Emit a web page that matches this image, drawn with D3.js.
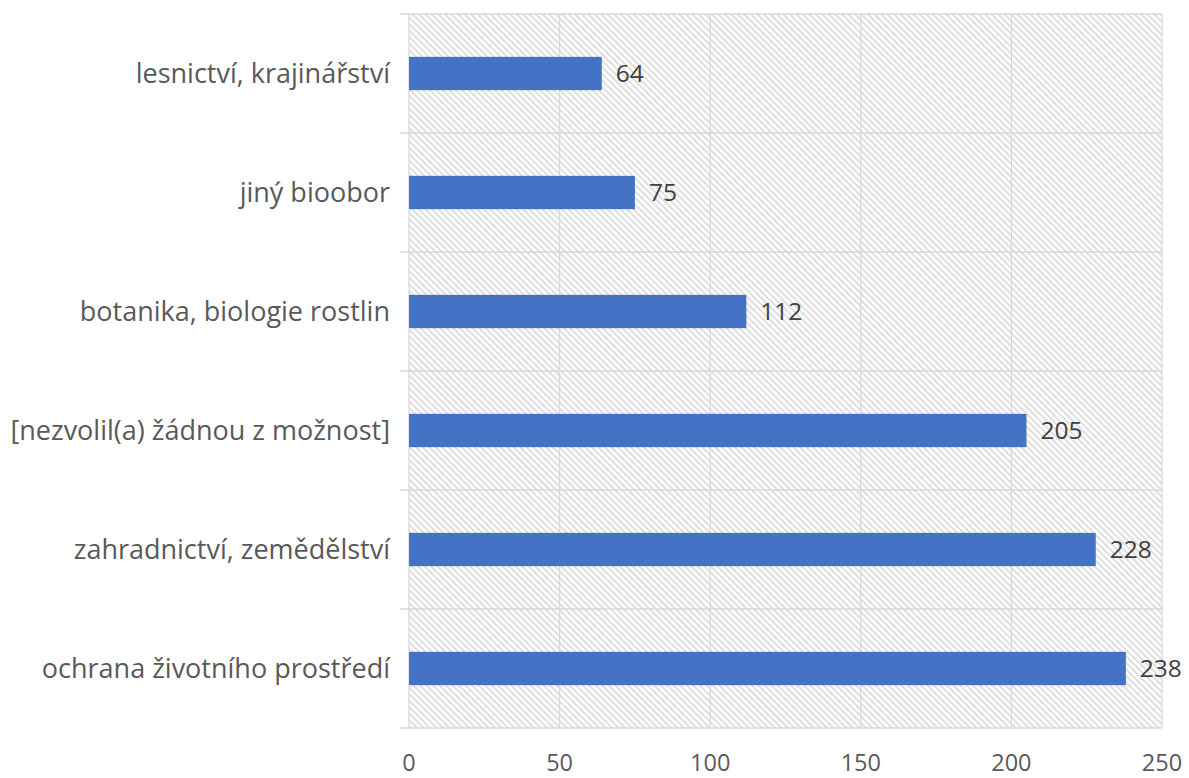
<!DOCTYPE html>
<html>
<head>
<meta charset="utf-8">
<script src="https://cdn.jsdelivr.net/npm/d3@7"></script>
<style>
  html, body { margin: 0; padding: 0; background: #fff; }
  svg { display: block; }
  text { font-family: "Open Sans", "Noto Sans", sans-serif; }
</style>
</head>
<body>
<script>
// Obory – počty odpovědí
const categories = [
  "lesnictví, krajinářství",
  "jiný bioobor",
  "botanika, biologie rostlin",
  "[nezvolil(a) žádnou z možnost]",
  "zahradnictví, zemědělství",
  "ochrana životního prostředí"
];
const values = [64, 75, 112, 205, 228, 238];
const xTicks = [0, 50, 100, 150, 200, 250];

const W = 1189, H = 778;
const margin = { top: 14, right: 27, bottom: 50, left: 409 };
const innerW = W - margin.left - margin.right;
const innerH = H - margin.top - margin.bottom;

const svg = d3.select("body").append("svg")
  .attr("width", W).attr("height", H);

// diagonal hatch (top-left to bottom-right) for the plot background
const defs = svg.append("defs");
const P = 4.6;
const pat = defs.append("pattern")
  .attr("id", "hatch")
  .attr("patternUnits", "userSpaceOnUse")
  .attr("width", P).attr("height", P)
  .attr("patternTransform", "rotate(45)");
pat.append("rect").attr("width", P).attr("height", P).attr("fill", "#fff");
pat.append("line")
  .attr("x1", 0).attr("y1", P / 2).attr("x2", P).attr("y2", P / 2)
  .attr("stroke", "#d8d8d8").attr("stroke-width", 1.7);

const g = svg.append("g").attr("transform", `translate(${margin.left},${margin.top})`);

const x = d3.scaleLinear().domain([0, 250]).range([0, innerW]);
const y = d3.scaleBand().domain(categories).range([0, innerH]).paddingInner(0).paddingOuter(0);

g.append("rect")
  .attr("x", 0).attr("y", 0)
  .attr("width", innerW).attr("height", innerH)
  .attr("fill", "url(#hatch)");

// vertical gridlines
g.selectAll("line.vgrid").data(xTicks).join("line")
  .attr("class", "vgrid")
  .attr("x1", d => x(d)).attr("x2", d => x(d))
  .attr("y1", 0).attr("y2", innerH)
  .attr("stroke", "#d9d9d9").attr("stroke-width", 1.3);

// horizontal category boundaries with short ticks on the left
const bounds = categories.map(c => y(c)).concat([innerH]);
g.selectAll("line.hgrid").data(bounds).join("line")
  .attr("class", "hgrid")
  .attr("x1", -9).attr("x2", innerW)
  .attr("y1", d => d).attr("y2", d => d)
  .attr("stroke", "#d9d9d9").attr("stroke-width", 1.3);

// bars
const barH = y.bandwidth() * 0.28;
g.selectAll("rect.bar").data(values).join("rect")
  .attr("class", "bar")
  .attr("x", x(0))
  .attr("y", (d, i) => y(categories[i]) + (y.bandwidth() - barH) / 2)
  .attr("width", d => x(d) - x(0))
  .attr("height", barH)
  .attr("fill", "#4472c4");

// value labels
g.selectAll("text.val").data(values).join("text")
  .attr("class", "val")
  .attr("x", d => x(d) + 14)
  .attr("y", (d, i) => y(categories[i]) + y.bandwidth() / 2)
  .attr("dy", "0.36em")
  .attr("font-size", 24.5)
  .attr("fill", "#404040")
  .text(d => d);

// category labels
g.selectAll("text.cat").data(categories).join("text")
  .attr("class", "cat")
  .attr("x", -19)
  .attr("y", d => y(d) + y.bandwidth() / 2)
  .attr("dy", "0.36em")
  .attr("text-anchor", "end")
  .attr("font-size", 27)
  .attr("fill", "#595959")
  .text(d => d);

// x tick labels
g.selectAll("text.tick").data(xTicks).join("text")
  .attr("class", "tick")
  .attr("x", d => x(d))
  .attr("y", innerH + 35)
  .attr("dy", "0.36em")
  .attr("text-anchor", "middle")
  .attr("font-size", 23.5)
  .attr("fill", "#595959")
  .text(d => d);
</script>
</body>
</html>
